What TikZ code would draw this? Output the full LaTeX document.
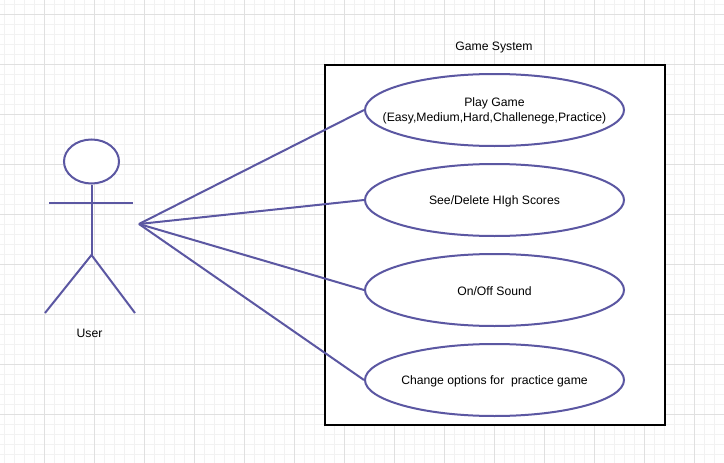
\documentclass[tikz,border=0pt]{standalone}
\usepackage{fontspec}
\setmainfont{Liberation Sans}
\usetikzlibrary{shapes.geometric}
\definecolor{umlblue}{HTML}{5B57A2}
\definecolor{gridminor}{HTML}{F2F2F2}
\definecolor{gridmajor}{HTML}{E0E0E0}
\tikzset{
  usecase/.style={draw=umlblue, line width=2pt, ellipse, fill=white, inner sep=0pt, minimum width=259pt, minimum height=72pt},
  casetext/.style={align=center, inner sep=0pt, yshift=-1pt, font=\fontsize{12.2pt}{15pt}\selectfont},
  actorline/.style={draw=umlblue, line width=2pt},
  label/.style={font=\fontsize{12.2pt}{15pt}\selectfont}
}
\begin{document}
\begin{tikzpicture}[x=1pt,y=-1pt]
\useasboundingbox (0,0) rectangle (724,463);
\fill[white] (0,0) rectangle (724,463);
\foreach \i in {0,...,72} \draw[gridminor, line width=1pt] (4.5+10*\i,0) -- (4.5+10*\i,463);
\foreach \i in {0,...,46} \draw[gridminor, line width=1pt] (0,4.5+10*\i) -- (724,4.5+10*\i);
\foreach \i in {0,...,14} \draw[gridmajor, line width=1pt] (44.5+50*\i,0) -- (44.5+50*\i,463);
\foreach \i in {0,...,8} \draw[gridmajor, line width=1pt] (0,14.5+50*\i) -- (724,14.5+50*\i);
\draw[black, line width=2pt, fill=white] (325,65) rectangle (665,425);
\node[label] (title) at (494,48) {Game System};
\node[usecase] (play) at (494.5,110) {};
\node[usecase] (scores) at (494.5,200) {};
\node[usecase] (sound) at (494.5,290) {};
\node[usecase] (options) at (494.5,380) {};
\node[casetext] (playtext) at (play) {Play Game\\(Easy,Medium,Hard,Challenege,Practice)};
\node[casetext] (scorestext) at (scores) {See/Delete HIgh Scores};
\node[casetext] (soundtext) at (sound) {On/Off Sound};
\node[casetext] (optionstext) at (options) {Change options for\ \ practice game};
\node[actorline, ellipse, fill=white, inner sep=0pt, minimum width=55pt, minimum height=44pt] (head) at (91.5,161.5) {};
\coordinate (hip) at (91.5,255);
\coordinate (armL) at (49,202.5);
\coordinate (armR) at (133,202.5);
\coordinate (footL) at (45,313);
\coordinate (footR) at (135,313);
\coordinate (hub) at (139,224);
\draw[actorline] (head.south) -- (hip);
\draw[actorline] (armL) -- (armR);
\draw[actorline] (footL) -- (hip) -- (footR);
\node[label] (user) at (89.5,333.5) {User};
\draw[actorline] (hub) -- (play.west);
\draw[actorline] (hub) -- (scores.west);
\draw[actorline] (hub) -- (sound.west);
\draw[actorline] (hub) -- (options.west);
\end{tikzpicture}
\end{document}
